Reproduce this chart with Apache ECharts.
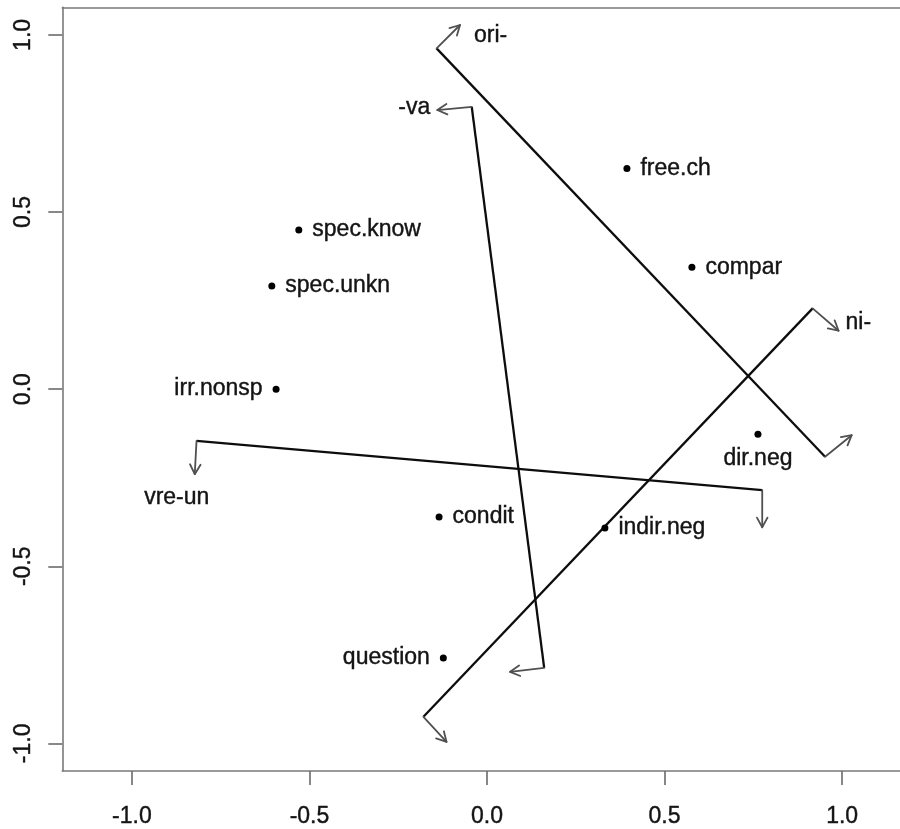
<!DOCTYPE html>
<html><head><meta charset="utf-8">
<script src="https://cdn.jsdelivr.net/npm/echarts@6/dist/echarts.min.js"></script>
<style>html,body{margin:0;padding:0;background:#fff}#c{width:900px;height:829px}</style>
</head><body><div id="c"></div>
<script>
// ---- data ----
const pointNames = ['free.ch','compar','spec.know','spec.unkn','irr.nonsp','dir.neg','condit','indir.neg','question'];
const pointX = [0.394, 0.577, -0.530, -0.606, -0.594, 0.763, -0.135, 0.332, -0.123];
const pointY = [0.623, 0.344, 0.449, 0.291, 0.000, -0.127, -0.361, -0.392, -0.759];

const vectorNames = ['ori-', '-va', 'ni-', 'vre-un'];
const vectorStartX = [-0.142, -0.043, 0.917, -0.818];
const vectorStartY = [0.962, 0.797, 0.228, -0.146];
const vectorEndX = [0.952, 0.161, -0.179, 0.775];
const vectorEndY = [-0.191, -0.787, -0.925, -0.285];
const startTipX = [-0.076, -0.140, 0.990, -0.823];
const startTipY = [1.028, 0.788, 0.165, -0.240];
const endTipX = [1.027, 0.065, -0.114, 0.775];
const endTipY = [-0.130, -0.798, -0.996, -0.390];

const tickValues = [-1.0, -0.5, 0.0, 0.5, 1.0];

// ---- layout / style (not data) ----
const pointLabelSide = ['right','right','right','right','left','bottom','right','right','left'];
const vectorLabelLayout = [
  {dx: 14, dy: 11, align: 'left'},
  {dx: -7, dy: -2, align: 'right'},
  {dx: 7, dy: -8, align: 'left'},
  {dx: -18, dy: 23, align: 'center'}
];
const FONT = '"Liberation Sans", Arial, Helvetica, sans-serif';
const TEXT = '#141414';
const AXIS = '#7a7a7a';

function arrowHead(tip, from, len, ang) {
  const a = Math.atan2(from[1] - tip[1], from[0] - tip[0]);
  return [
    [tip[0] + len * Math.cos(a + ang), tip[1] + len * Math.sin(a + ang)],
    tip,
    [tip[0] + len * Math.cos(a - ang), tip[1] + len * Math.sin(a - ang)]
  ];
}

const chart = echarts.init(document.getElementById('c'), null, {renderer: 'canvas'});

const vectorData = vectorNames.map((n, i) => [
  vectorStartX[i], vectorStartY[i], vectorEndX[i], vectorEndY[i],
  startTipX[i], startTipY[i], endTipX[i], endTipY[i]
]);

const pointData = pointNames.map((n, i) => ({
  name: n,
  value: [pointX[i], pointY[i]],
  label: {position: pointLabelSide[i]}
}));

const tickLabel = {customValues: tickValues, formatter: v => Number(v).toFixed(1),
                   fontSize: 23, color: TEXT, fontFamily: FONT,
                   textBorderColor: TEXT, textBorderWidth: 0.4};

chart.setOption({
  animation: false,
  backgroundColor: '#fff',
  grid: {left: 62.3, top: 7.3, right: 0, bottom: 58, show: false},
  xAxis: [
    {
      type: 'value', position: 'bottom',
      min: -1.196, max: 1.163,
      splitLine: {show: false},
      axisLine: {show: true, onZero: false, lineStyle: {color: AXIS, width: 1.6}},
      axisTick: {show: true, inside: false, length: 14, customValues: tickValues,
                 lineStyle: {color: '#6a6a6a', width: 1.6}},
      axisLabel: Object.assign({}, tickLabel, {margin: 34})
    },
    {
      type: 'value', position: 'top',
      min: -1.196, max: 1.163,
      splitLine: {show: false},
      axisLine: {show: true, onZero: false, lineStyle: {color: AXIS, width: 1.6}},
      axisTick: {show: false},
      axisLabel: {show: false}
    }
  ],
  yAxis: {
    type: 'value',
    min: -1.078, max: 1.078,
    splitLine: {show: false},
    axisLine: {show: true, onZero: false, lineStyle: {color: AXIS, width: 1.6}},
    axisTick: {show: true, inside: false, length: 14, customValues: tickValues,
               lineStyle: {color: '#6a6a6a', width: 1.6}},
    axisLabel: Object.assign({}, tickLabel, {rotate: 90, margin: 27})
  },
  series: [
    {
      type: 'custom',
      clip: false,
      xAxisIndex: 0,
      encode: {x: [0, 2, 4, 6], y: [1, 3, 5, 7]},
      data: vectorData,
      renderItem: function (params, api) {
        const i = params.dataIndex;
        const s = api.coord([api.value(0), api.value(1)]);
        const e = api.coord([api.value(2), api.value(3)]);
        const st = api.coord([api.value(4), api.value(5)]);
        const et = api.coord([api.value(6), api.value(7)]);
        const lay = vectorLabelLayout[i];
        const gray = {stroke: '#505050', lineWidth: 1.8, fill: null, lineJoin: 'round', lineCap: 'round'};
        return {
          type: 'group',
          children: [
            {type: 'polyline', shape: {points: [s, e]}, style: {stroke: '#0d0d0d', lineWidth: 2.3, fill: null, lineJoin: 'round'}},
            {type: 'polyline', shape: {points: [s, st]}, style: gray},
            {type: 'polyline', shape: {points: arrowHead(st, s, 11, 0.5)}, style: gray},
            {type: 'polyline', shape: {points: [e, et]}, style: gray},
            {type: 'polyline', shape: {points: arrowHead(et, e, 11, 0.5)}, style: gray},
            {type: 'text', x: st[0] + lay.dx, y: st[1] + lay.dy,
             style: {text: vectorNames[i], fill: TEXT, font: '23px ' + FONT,
                     stroke: TEXT, lineWidth: 0.4,
                     align: lay.align, verticalAlign: 'middle'}}
          ]
        };
      }
    },
    {
      type: 'scatter',
      xAxisIndex: 0,
      symbol: 'circle',
      symbolSize: 7,
      itemStyle: {color: '#000', opacity: 1},
      data: pointData,
      label: {show: true, formatter: p => p.name, fontSize: 23, color: TEXT, opacity: 1,
              textBorderColor: TEXT, textBorderWidth: 0.4,
              fontFamily: FONT, distance: 10}
    }
  ]
});
</script>
</body></html>
